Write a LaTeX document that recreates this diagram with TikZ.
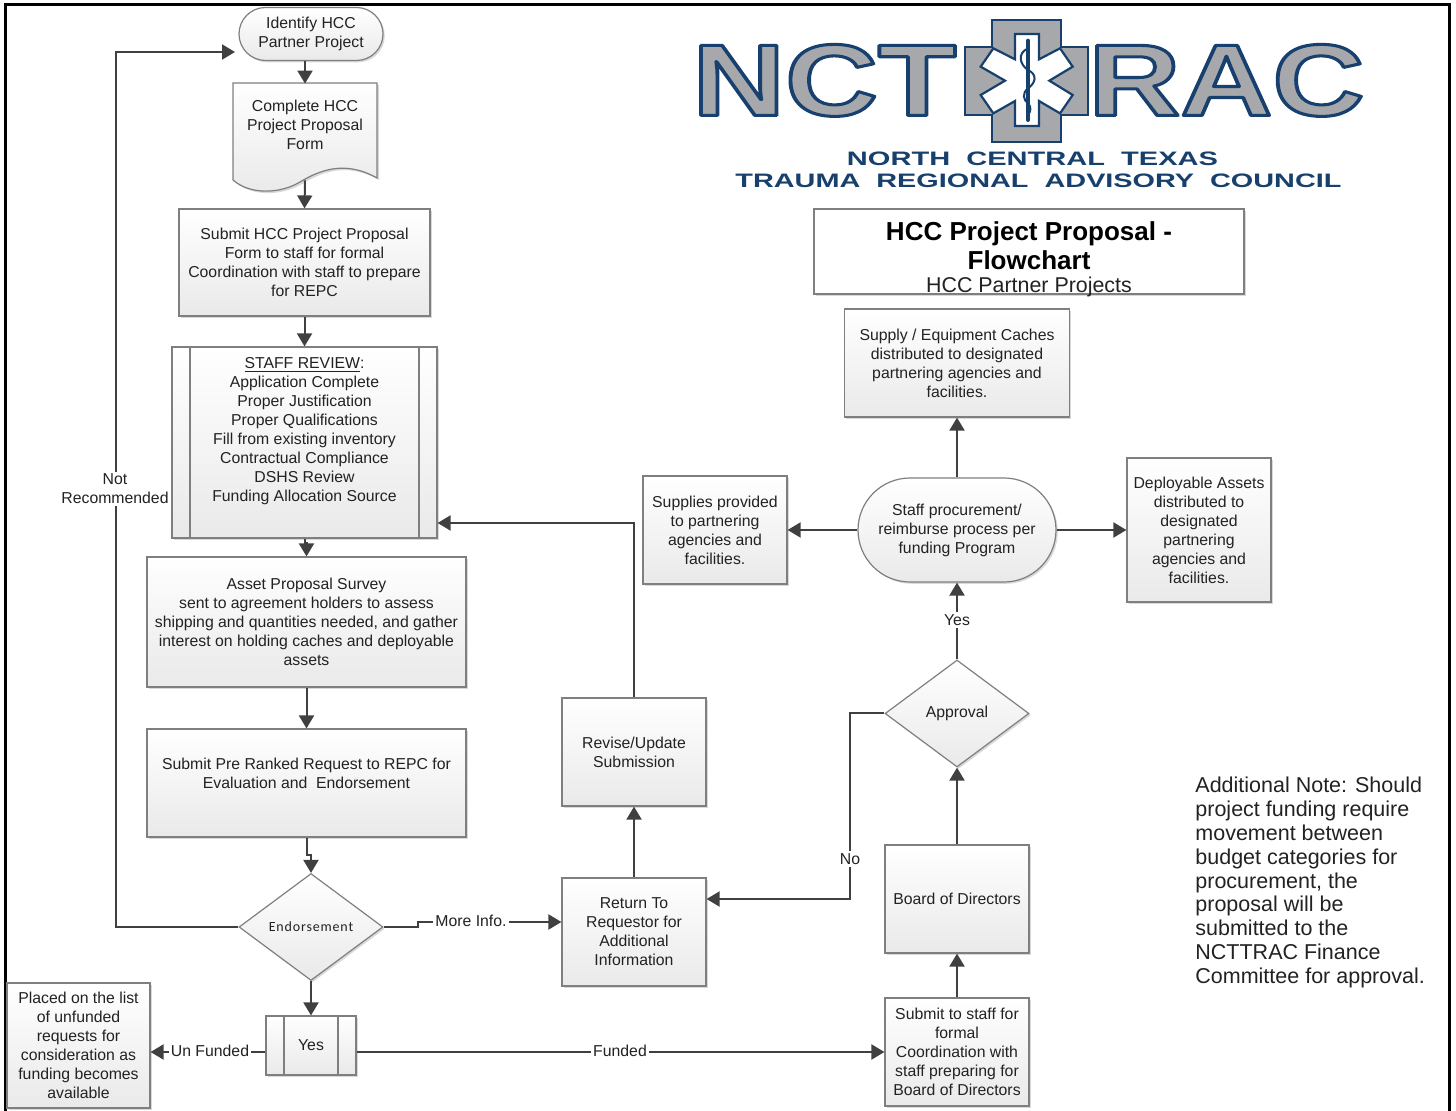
\documentclass[tikz,border=0pt]{standalone}
\usepackage{fontspec}
\usepackage{graphicx}
\setmainfont{Liberation Sans}
\newfontfamily\endfont[LetterSpace=6]{Carlito}
\usetikzlibrary{shapes.geometric,shapes.misc,shadows,arrows.meta}
\definecolor{navy}{HTML}{17406D}
\definecolor{lgray}{HTML}{A6A8AB}
\definecolor{boxline}{HTML}{7F7F7F}
\definecolor{conn}{HTML}{404040}
\definecolor{ink}{HTML}{222222}
\newcommand\logotxt[1]{\special{pdf:code q 2 Tr 0.3 w 1 j 0.09 0.25 0.43 RG 0.65 0.66 0.67 rg}{\bfseries #1}\special{pdf:code Q}}
\tikzset{
  wh/.style 2 args={minimum width=#1*0.5pt,minimum height=#2*0.5pt},
  flow/.style={draw=boxline,line width=0.6pt,top color=white,bottom color=gray!17,text=ink,align=center,inner sep=0pt,
    font=\fontsize{7.9pt}{9.5pt}\selectfont,
    drop shadow={shadow xshift=0.9pt,shadow yshift=-0.9pt,opacity=0.3,fill=gray}},
  decision/.style={flow,diamond,aspect=1.35},
  terminator/.style={flow,rounded rectangle},
  plain/.style={text=ink,align=center,inner sep=0pt,font=\fontsize{7.9pt}{9.5pt}\selectfont},
  lbl/.style={plain,fill=white,inner sep=1pt},
  arr/.style={draw=conn,line width=1pt,-{Triangle[length=6.5pt,width=7.5pt]}},
  lin/.style={draw=conn,line width=1pt},
}
\begin{document}
\begin{tikzpicture}[x=0.5pt,y=-0.5pt]
\useasboundingbox (0,0) rectangle (1456,1111);
% frame
\draw[line width=1.5pt,black] (5,1111) -- (5,5) -- (1449,5) -- (1449,1111);
% flow nodes
\node[terminator,wh={144}{53}] (start) at (311,34) {Identify HCC\\Partner Project};
\node[inner sep=0pt,wh={144}{96}] (doc) at (305,132) {};
\fill[gray,opacity=0.3,shift={(2,2)}] (233,83) -- (377,83) -- (377,178) .. controls (345,160) and (320,170) .. (300,182) .. controls (280,194) and (250,195) .. (233,180) -- cycle;
\shade[top color=white,bottom color=gray!17,draw=boxline,line width=0.6pt] (233,83) -- (377,83) -- (377,178) .. controls (345,160) and (320,170) .. (300,182) .. controls (280,194) and (250,195) .. (233,180) -- cycle;
\node[plain] (doctxt) at (305,125) {Complete HCC\\Project Proposal\\Form};
\node[flow,wh={251}{107}] (sub) at (304.5,262.5) {Submit HCC Project Proposal\\Form to staff for formal\\Coordination with staff to prepare\\for REPC};
\node[flow,wh={265}{191}] (staff) at (304.5,442.5) {};
\draw[boxline,line width=0.6pt] (190,347) -- (190,538) (419,347) -- (419,538);
\node[plain] (stafftxt) at (304.5,431.5) {\underline{STAFF REVIEW}:\\Application Complete\\Proper Justification\\Proper Qualifications\\Fill from existing inventory\\Contractual Compliance\\DSHS Review\\Funding Allocation Source};
\node[flow,wh={319}{130}] (asset) at (306.5,622) {Asset Proposal Survey\\sent to agreement holders to assess\\shipping and quantities needed, and gather\\interest on holding caches and deployable\\assets};
\node[flow,wh={319}{108}] (pre) at (306.5,783) {Submit Pre Ranked Request to REPC for\\Evaluation and\ \ Endorsement\\~};
\node[decision,wh={144}{107}] (end) at (311,927) {\endfont\fontsize{7pt}{8pt}\selectfont Endorsement};
\node[flow,wh={90}{59}] (yes) at (311,1045.5) {Yes};
\draw[boxline,line width=0.6pt] (284,1016) -- (284,1075) (338,1016) -- (338,1075);
\node[flow,wh={143}{125}] (placed) at (78.5,1045.5) {Placed on the list\\of unfunded\\requests for\\consideration as\\funding becomes\\available};
\node[flow,wh={144}{108}] (rev) at (634,752) {Revise/Update\\Submission};
\node[flow,wh={144}{108}] (ret) at (634,932) {Return To\\Requestor for\\Additional\\Information};
\node[flow,wh={144}{108}] (board) at (957,899) {Board of Directors};
\node[flow,wh={144}{108}] (sta) at (957,1052) {Submit to staff for\\formal\\Coordination with\\staff preparing for\\Board of Directors};
\node[decision,wh={144}{107}] (app) at (957,713.5) {Approval};
\node[terminator,wh={198}{104}] (proc) at (957,530) {Staff procurement/\\reimburse process per\\funding Program};
\node[flow,wh={144}{108}] (sup) at (715,530) {Supplies provided\\to partnering\\agencies and\\facilities.};
\node[flow,wh={144}{144}] (dep) at (1199,530) {Deployable Assets\\distributed to\\designated\\partnering\\agencies and\\facilities.};
\node[flow,wh={225}{108}] (cache) at (957,363) {Supply / Equipment Caches\\distributed to designated\\partnering agencies and\\facilities.};
% title
\node[flow,top color=white,bottom color=white,wh={430}{85}] (title) at (1029,251.5) {};
\node[plain,text=black,font=\bfseries\fontsize{13pt}{14.5pt}\selectfont] (t1) at (1029,245.5) {HCC Project Proposal -\\Flowchart};
\node[plain,font=\fontsize{10.7pt}{12pt}\selectfont] (t2) at (1029,287) {HCC Partner Projects};
% note
\node[plain,align=left,anchor=north west,font=\fontsize{10.75pt}{11.9pt}\selectfont] (note) at (1195,777) {Additional Note: Should\\project funding require\\movement between\\budget categories for\\procurement, the\\proposal will be\\submitted to the\\NCTTRAC Finance\\Committee for approval.};
% connectors
\coordinate (nrEnd) at (235,52);
\coordinate (nrA) at (116,927);
\coordinate (nrB) at (116,52);
\draw[arr] (end.west) -- (nrA) -- (nrB) -- (nrEnd);
\node[lbl] (nr) at (115,489) {Not\\Recommended};
\draw[arr] (start.south -| doc.north) -- (doc.north);
\draw[arr] (doc.south) -- (sub.north);
\draw[arr] (sub.south) -- (staff.north);
\coordinate (j1) at (304.5,543);
\coordinate (j2) at (306.5,543);
\draw[arr] (staff.south) -- (j1) -- (j2) -- (asset.north);
\draw[arr] (asset.south) -- (pre.north);
\coordinate (j3) at (306.5,855);
\coordinate (j4) at (311,855);
\draw[arr] (pre.south) -- (j3) -- (j4) -- (end.north);
\draw[arr] (end.south) -- (yes.north);
\coordinate (m1) at (418,927);
\coordinate (m2) at (418,922);
\draw[arr] (end.east) -- (m1) -- (m2) -- (ret.west |- m2);
\node[lbl] (more) at (471,921) {More Info.};
\draw[arr] (yes.west |- sta.west) -- (placed.east |- sta.west);
\node[lbl] (unf) at (210,1051) {Un Funded};
\draw[arr] (yes.east |- sta.west) -- (sta.west);
\node[lbl] (fun) at (620,1051) {Funded};
\draw[arr] (sta.north) -- (board.south);
\draw[arr] (board.north) -- (app.south);
\draw[arr] (app.north) -- (proc.south);
\node[lbl] (yl) at (957,620) {Yes};
\coordinate (n1) at (850,713.5);
\coordinate (n2) at (850,899);
\draw[arr] (app.west) -- (n1) -- (n2) -- (ret.east |- n2);
\node[lbl] (nl) at (850,859) {No};
\draw[arr] (ret.north) -- (rev.south);
\coordinate (r1) at (634,523);
\draw[arr] (rev.north) -- (r1) -- (staff.east |- r1);
\draw[arr] (proc.west) -- (sup.east);
\draw[arr] (proc.east) -- (dep.west);
\draw[arr] (proc.north) -- (cache.south);
% logo
\node[inner sep=0pt,anchor=north west] (lg1) at (692,44) {\resizebox{132pt}{35.5pt}{\logotxt{NCT}}};
\node[inner sep=0pt,anchor=north west] (lg2) at (1088,44) {\resizebox{138pt}{35.5pt}{\logotxt{RAC}}};
\draw[navy,line width=1.1pt,fill=lgray] (992,20) -- (1061,20) -- (1061,47) -- (1088,47) -- (1088,115) -- (1061,115) -- (1061,142) -- (992,142) -- (992,115) -- (965,115) -- (965,47) -- (992,47) -- cycle;
\begin{scope}[shift={(960,20)},x=0.1667pt,y=-0.1667pt]
\draw[navy,line width=1.1pt,fill=white,line join=miter] (165,42) -- (237,42) -- (237,118) -- (300,85) -- (338,140) -- (268,182) -- (338,225) -- (300,280) -- (237,243) -- (237,318) -- (165,318) -- (165,243) -- (100,280) -- (62,225) -- (135,182) -- (62,140) -- (100,85) -- (165,118) -- cycle;
\draw[navy,line width=2pt,line cap=round] (204,62) -- (204,300);
\draw[navy,line width=1pt] (204,85) .. controls (170,100) and (180,135) .. (204,150) .. controls (235,165) and (225,190) .. (204,205) .. controls (185,220) and (190,240) .. (204,250) .. controls (215,260) and (212,275) .. (204,285);
\end{scope}
\node[inner sep=0pt,text=navy] (sub1) at (1032.5,159) {\resizebox{185.5pt}{6.8pt}{\bfseries NORTH\ \ CENTRAL\ \ TEXAS}};
\node[inner sep=0pt,text=navy] (sub2) at (1038.5,181) {\resizebox{303pt}{6.8pt}{\bfseries TRAUMA\ \ REGIONAL\ \ ADVISORY\ \ COUNCIL}};
\end{tikzpicture}
\end{document}
